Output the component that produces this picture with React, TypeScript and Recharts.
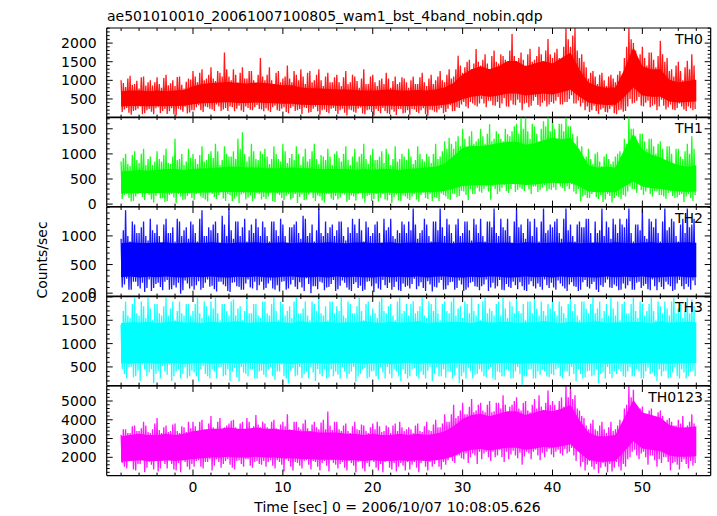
import React from 'react';
import { ComposedChart, Line, Area, XAxis, YAxis } from 'recharts';

// ---- time grid ----
const BIN_START = -8; // sec, first 0.5 s bin of the envelope arrays
const BIN_STEP = 0.5; // sec; A arrays = first quarter-second, B arrays = second quarter-second
const CORE_START = -8; // sec, first point of the dense-core arrays (1 s step)

const TITLE = 'ae501010010_20061007100805_wam1_bst_4band_nobin.qdp';
const X_LABEL = 'Time [sec] 0 = 2006/10/07 10:08:05.626';
const Y_LABEL = 'Counts/sec';

const X_MAJOR = [0, 10, 20, 30, 40, 50];
const X_MINOR = [-8, -6, -4, -2, 2, 4, 6, 8, 12, 14, 16, 18, 22, 24, 26, 28, 32, 34, 36, 38, 42, 44, 46, 48, 52, 54, 56];

// ---- TH0 (red) ----
const TH0_HI = [
  1000,820,1120,900,780,1100,950,860,1080,800,1150,920,850,1100,780,1050,
  1250,950,1300,1050,1350,980,1200,1750,1100,1300,950,1350,1050,1250,900,1600,
  1000,1350,900,1250,1050,1400,950,1150,1300,900,1250,1000,1300,850,1200,950,
  1150,850,1250,950,1100,800,1300,900,1150,850,1050,1200,800,1100,950,1050,
  800,1100,900,1200,850,1150,1000,1250,950,1300,1100,1660,1200,1500,1300,1840,
  1400,1700,1300,1800,1450,1650,1350,2245,1500,1750,1400,1850,1550,1900,1450,2110,
  1600,1850,1500,2400,1900,2400,1600,1500,1050,1250,900,1200,850,1150,950,1250,
  1600,2400,2000,1500,1900,1400,1750,1350,2060,1500,1250,1100,1500,1000,1525,1700,
];
const TH0_LO = [
  150,260,80,200,300,120,230,90,280,180,100,250,60,210,290,140,
  200,330,150,280,220,350,180,260,300,170,320,150,260,200,340,220,
  250,150,320,180,280,120,300,200,100,260,150,290,80,220,120,260,
  100,240,60,200,130,270,90,220,50,180,260,120,210,70,230,130,
  80,220,120,250,60,200,140,260,150,330,180,260,420,250,380,300,
  500,280,450,320,260,520,290,350,480,200,400,320,550,300,450,350,
  380,550,350,420,600,380,300,200,150,320,100,250,140,300,90,220,
  180,500,400,550,300,450,320,200,480,220,350,200,380,220,300,200,
];
const TH0_HI_B = [
  930,1050,880,990,1080,860,1000,950,900,1060,870,1000,1090,880,960,1020,
  1100,1200,1000,1150,1050,1250,1100,1300,1000,1150,1200,1050,1250,1000,1150,1100,
  1150,1000,1200,950,1100,1050,1250,1000,1100,1200,950,1150,1000,1100,950,1080,
  950,1080,900,1150,980,1050,900,1100,950,1000,900,1050,980,900,1080,950,
  1000,900,1080,950,1050,900,1100,1000,1150,1050,1300,1400,1350,1550,1450,1500,
  1550,1450,1650,1500,1700,1550,1800,1650,1600,1550,1700,1500,1650,1700,1800,1700,
  1750,1600,1900,2100,2200,1800,1700,1350,1200,1100,1150,1000,1100,1050,1150,1000,
  1900,2100,1800,1700,1600,1750,1550,1650,1700,1600,1300,1400,1250,1350,1300,1400,
];
const TH0_LO_B = [
  220,130,180,240,90,200,160,250,120,230,170,90,240,160,110,200,
  280,200,300,240,180,300,220,180,280,240,190,300,210,280,230,170,
  190,280,200,240,150,260,180,230,270,130,240,170,200,150,240,180,
  200,130,220,160,240,110,200,150,230,120,180,90,160,230,110,200,
  230,150,200,90,210,160,220,120,240,170,280,350,300,420,330,380,
  380,450,330,420,380,300,460,330,400,380,280,450,340,400,300,420,
  450,350,420,500,380,460,400,300,200,180,220,150,230,120,200,160,
  300,380,450,320,400,280,350,300,320,280,220,260,300,180,250,230,
];
const TH0_CORE_LO = [
  300,310,310,305,310,305,310,315,
  360,385,395,405,410,395,390,405,
  395,385,370,370,345,335,335,330,
  320,320,315,310,310,315,320,310,
  310,315,310,320,345,395,495,560,
  590,560,590,650,650,590,620,650,
  620,680,745,560,405,360,340,345,
  560,805,590,560,560,435,405,420,435,
];
const TH0_CORE_HI = [
  700,725,725,710,725,710,725,740,
  840,900,930,945,955,930,915,945,
  930,900,870,870,810,785,785,770,
  755,755,740,725,725,740,755,725,
  725,740,725,755,810,930,1160,1300,
  1380,1300,1380,1520,1520,1380,1450,1520,
  1450,1600,1740,1300,945,840,800,810,
  1300,1890,1380,1300,1300,1015,945,985,1015,
];

// ---- TH1 (green) ----
const TH1_HI = [
  850,1000,760,1050,820,1100,900,780,1050,850,1100,800,1300,900,780,1100,
  1000,800,1150,880,1050,1200,780,1150,950,1050,1300,1430,850,1200,900,1050,
  1100,800,1150,900,1200,820,1000,1150,780,1100,900,1200,800,950,1100,780,
  1050,850,1150,780,1100,950,1200,800,1100,880,1050,1100,780,1150,900,950,
  1100,800,1150,900,1000,820,1200,950,1250,1320,1100,1350,1500,1150,1450,1250,
  1500,1200,1590,1300,1400,1250,1390,1450,1600,1730,1730,1300,1550,1250,1650,1750,
  1750,1300,1600,1730,1550,1200,1050,850,1100,800,1030,760,1000,800,950,1050,
  1300,1750,1500,1200,1400,1100,1300,1000,1250,850,1150,800,1100,900,1200,1350,
];
const TH1_LO = [
  100,200,50,150,250,80,180,30,220,120,60,200,20,150,90,210,
  80,220,120,50,200,100,250,60,180,110,20,210,130,60,220,90,
  100,230,40,180,80,200,120,20,190,90,240,60,150,30,200,80,
  90,210,40,170,70,230,30,180,100,50,200,70,20,190,60,150,
  80,200,40,230,100,60,120,210,150,80,200,160,250,80,200,320,
  225,350,85,300,250,380,220,400,285,300,420,200,350,280,380,300,
  330,450,320,350,400,200,50,180,120,250,100,40,200,30,170,100,
  150,350,300,400,180,320,150,250,180,100,250,120,180,40,200,60,
];
const TH1_HI_B = [
  920,800,980,880,1000,780,950,850,900,980,820,950,880,1000,850,920,
  900,980,850,1000,920,1050,880,1000,950,900,1100,1000,950,1050,880,1000,
  950,900,1000,850,1050,920,880,1000,950,850,1050,900,980,880,950,1000,
  920,1000,880,950,850,1000,900,980,880,950,820,1000,900,850,1000,880,
  950,880,1000,850,950,1000,900,1050,1100,1200,1250,1150,1300,1350,1200,1300,
  1350,1400,1250,1450,1300,1500,1350,1550,1400,1500,1450,1600,1400,1500,1550,1450,
  1500,1600,1450,1550,1400,1350,1150,950,900,1000,850,950,900,850,1000,900,
  1200,1500,1350,1400,1250,1300,1150,1200,1100,1150,1000,1100,950,1050,1000,1100,
];
const TH1_LO_B = [
  180,120,60,200,140,230,90,160,110,40,180,130,200,80,160,120,
  200,150,90,230,140,180,110,200,60,150,190,90,170,110,200,140,
  150,60,210,120,170,90,200,140,80,190,120,170,70,200,110,160,
  130,190,80,150,200,110,160,60,200,130,90,180,140,70,170,110,
  150,90,180,120,200,140,60,180,100,210,140,260,180,300,200,250,
  300,250,350,200,320,260,300,240,330,260,300,350,240,330,260,280,
  280,350,260,300,250,300,150,120,200,140,180,90,160,120,140,180,
  250,300,220,280,250,200,260,180,150,220,160,130,200,150,120,180,
];
const TH1_CORE_LO = [
  210,215,220,215,220,225,225,220,
  225,230,230,235,240,240,235,235,
  230,230,230,235,230,230,225,225,
  225,225,220,225,220,225,225,220,
  225,230,235,240,260,310,360,375,
  370,380,390,400,400,380,390,410,
  425,415,425,350,250,235,240,235,
  350,450,350,320,300,275,250,240,250,
];
const TH1_CORE_HI = [
  650,665,680,665,680,700,700,680,
  700,715,715,730,745,745,730,730,
  715,715,715,730,715,715,700,700,
  700,700,680,700,680,700,700,680,
  700,715,730,745,805,960,1115,1160,
  1150,1180,1210,1240,1240,1180,1210,1270,
  1320,1290,1320,1085,775,730,745,730,
  1085,1395,1085,990,930,850,775,745,775,
];

// ---- TH2 (blue) ----
const TH2_HI = [
  950,1450,900,1200,1050,1250,920,1100,1200,880,1300,1050,900,1250,1100,950,
  1200,900,1450,1000,1100,1250,880,1200,1480,950,1250,1150,900,1200,1300,1000,
  1150,900,1250,1000,1200,880,1150,1250,950,1300,1050,900,1480,1000,1050,1200,
  1100,1250,920,1050,1200,1300,900,1150,1050,1250,880,1100,1300,950,1050,1200,
  1250,1480,950,1100,1200,900,1250,1480,1000,1200,900,1300,1050,1250,920,1200,
  1300,900,1250,1480,1000,1150,1300,880,1480,1200,950,1250,1300,900,1480,1100,
  1150,1300,950,1480,1200,900,1250,1150,1300,880,1050,1480,1250,950,1200,1300,
  1150,1480,900,1200,1480,950,1250,1300,900,1480,1150,1250,900,1300,1480,1200,
];
const TH2_LO = [
  100,250,60,200,80,20,240,90,180,50,230,70,100,-10,220,80,
  60,210,90,240,130,30,200,120,20,190,110,60,240,80,50,200,
  90,220,60,30,210,80,230,70,100,260,0,120,200,50,110,230,
  70,220,100,40,190,130,60,210,20,80,230,90,60,200,40,110,
  80,250,120,90,210,30,100,230,70,190,60,220,40,100,200,110,
  120,240,100,80,230,50,110,200,70,120,40,210,80,110,240,90,
  100,220,120,40,190,110,60,230,80,200,20,110,240,90,120,60,
  80,210,60,200,130,70,240,50,110,200,120,60,230,70,110,220,
];
const TH2_HI_B = [
  1100,1000,1250,1050,1150,1000,1300,1050,1000,1200,1050,1150,1300,1000,1150,1250,
  1050,1300,1000,1150,1200,1050,1350,1000,1100,1250,1000,1300,1100,1050,1150,1250,
  1000,1250,1100,1300,1000,1150,1200,1050,1350,1000,1200,1100,1050,1250,1150,1000,
  1250,1000,1150,1300,1050,1100,1250,1000,1200,1050,1300,1150,1000,1100,1250,1050,
  1100,1200,1050,1300,1000,1250,1100,1150,1300,1050,1200,1000,1250,1100,1300,1050,
  1000,1250,1150,1050,1300,1100,1000,1250,1150,1050,1300,1000,1150,1250,1050,1200,
  1250,1050,1300,1100,1000,1200,1150,1300,1050,1250,1100,1000,1150,1300,1050,1200,
  1300,1050,1200,1100,1000,1300,1150,1050,1250,1100,1300,1000,1200,1050,1150,1300,
];
const TH2_LO_B = [
  150,60,200,120,180,90,40,160,110,200,60,140,180,50,170,120,
  140,60,180,110,70,200,150,40,180,120,60,170,100,200,140,60,
  170,80,140,200,60,150,110,190,40,160,120,70,180,100,160,40,
  130,180,60,160,90,40,200,120,170,60,140,180,110,50,170,130,
  160,70,190,40,150,110,180,60,140,200,90,150,60,180,120,50,
  150,40,180,120,60,160,90,140,190,50,150,120,170,60,140,180,
  60,170,80,150,120,40,190,110,160,60,140,180,100,150,50,170,
  140,60,180,90,160,50,120,190,70,150,40,170,120,160,60,140,
];
const TH2_CORE_LO = [
  280,290,275,285,280,290,280,275,
  285,280,290,280,275,285,280,290,
  280,275,285,290,280,280,285,275,
  290,280,285,280,275,290,280,285,
  280,290,275,285,290,280,275,285,
  280,290,285,275,280,290,280,285,
  275,290,280,285,280,275,290,280,
  285,280,290,275,280,285,290,280,280,
];
const TH2_CORE_HI = [
  870,890,880,875,885,890,870,880,
  885,875,890,880,870,885,880,890,
  875,880,890,870,885,880,875,890,
  880,870,885,890,875,880,890,870,
  885,880,875,890,880,870,885,880,
  890,875,880,885,870,890,880,875,
  885,880,890,870,880,885,875,890,
  880,870,885,890,875,880,885,890,880,
];

// ---- TH3 (cyan) ----
const TH3_HI = [
  1400,1900,1550,2000,1600,1800,2000,1500,1850,1600,2000,1750,1500,1900,1600,1850,
  1700,2000,1550,1800,1900,2000,1500,1850,1600,1950,1750,1500,2000,1650,1850,1550,
  1900,1600,2000,1500,1850,1700,1550,2000,1650,1900,1500,1850,2000,1600,1500,1900,
  1800,2000,1550,1850,1650,2000,1500,1900,1750,1550,2000,1650,1850,1500,2000,1700,
  1600,1900,1700,2000,1550,1850,2000,1500,1900,1650,2000,1750,1550,1850,2000,1600,
  1500,2000,1750,1600,1900,2000,1550,1800,2000,1650,1500,1900,2000,1600,1700,1850,
  2000,1600,1800,1550,2000,1850,1500,1900,1650,2000,1750,1550,1850,2000,1600,1500,
  1900,1650,2000,1550,1850,1700,2000,1500,1800,1900,1600,2000,1750,1550,2000,1950,
];
const TH3_LO = [
  450,250,500,300,200,450,380,150,420,520,330,200,400,250,500,300,
  380,200,520,300,450,250,500,320,200,480,180,380,300,450,250,420,
  280,500,220,400,300,150,480,320,260,400,500,200,350,450,280,300,
  330,500,250,400,180,350,480,280,420,230,380,500,260,400,200,350,
  300,480,250,330,420,200,500,300,270,400,320,150,380,480,250,350,
  400,280,500,220,380,300,420,260,500,120,300,450,250,330,400,280,
  320,480,250,400,500,200,350,280,420,320,150,380,500,260,350,400,
  280,500,300,400,250,480,380,200,300,420,280,500,250,380,300,420,
];
const TH3_HI_B = [
  1700,1600,1850,1650,1900,1550,1750,1850,1650,1800,1600,1900,1700,1650,1850,1600,
  1850,1650,1900,1600,1750,1650,1850,1700,1900,1600,1800,1700,1650,1850,1600,1900,
  1650,1850,1700,1900,1600,1800,1900,1650,1750,1600,1900,1700,1650,1800,1900,1650,
  1700,1600,1900,1650,1800,1700,1850,1600,1650,1900,1700,1800,1600,1900,1650,1850,
  1850,1650,1800,1600,1900,1700,1650,1850,1700,1900,1600,1800,1900,1650,1700,1850,
  1900,1650,1700,1850,1600,1750,1900,1650,1700,1850,1900,1650,1750,1900,1600,1750,
  1700,1900,1650,1850,1700,1600,1900,1750,1850,1650,1900,1700,1600,1750,1900,1850,
  1650,1850,1700,1900,1600,1850,1700,1900,1650,1750,1900,1650,1850,1700,1650,1800,
];
const TH3_LO_B = [
  350,500,280,420,550,300,450,350,250,400,550,300,450,350,250,420,
  300,450,350,250,400,500,300,450,400,280,500,350,450,250,400,330,
  450,300,400,550,250,420,300,500,350,250,380,450,300,250,450,400,
  250,400,350,500,300,450,250,400,300,500,250,350,450,300,450,250,
  450,300,400,250,500,350,300,450,400,250,480,300,250,400,330,450,
  300,450,250,400,300,450,250,400,350,300,450,250,400,450,300,350,
  450,300,400,300,350,450,250,400,300,450,350,250,350,400,450,300,
  400,300,450,250,400,350,300,450,400,250,380,300,450,250,400,300,
];
const TH3_CORE_LO = [
  580,570,585,590,570,580,585,565,
  580,590,570,580,585,570,590,580,
  570,585,580,565,585,590,580,570,
  585,580,590,570,580,585,565,580,
  590,570,585,580,570,590,580,585,
  570,580,585,590,570,580,585,570,
  590,580,570,585,580,590,570,585,
  580,570,585,590,580,570,585,580,585,
];
const TH3_CORE_HI = [
  1440,1460,1450,1470,1440,1460,1480,1450,
  1460,1440,1470,1450,1460,1480,1440,1460,
  1450,1470,1460,1440,1480,1450,1460,1470,
  1440,1460,1450,1480,1460,1440,1470,1450,
  1460,1480,1440,1460,1450,1470,1460,1440,
  1480,1450,1460,1470,1440,1460,1450,1480,
  1460,1440,1470,1450,1460,1480,1440,1460,
  1450,1470,1460,1440,1480,1450,1460,1470,1460,
];

// ---- TH0123 (magenta) ----
const THS_HI = [
  3200,3500,3300,3700,3400,3900,3350,3500,4100,3300,3700,3400,3800,3300,3600,3900,
  3900,3400,4000,3500,4200,3450,4100,3600,3800,4000,3450,3900,4100,3500,4250,3600,
  3800,3450,4000,3500,3900,4300,3400,3900,3500,4000,3400,3900,3500,4000,4440,3450,
  3900,3400,3800,3300,3900,3450,3700,3300,3800,3900,3350,3700,3300,3800,3900,3400,
  3600,3300,3800,3350,3900,3400,4000,3600,4300,3900,4800,4200,4900,4300,5100,4500,
  4900,4400,5000,4450,4900,5300,4400,4800,5200,4500,5000,4400,5100,5300,4500,5560,
  5000,4500,5200,5800,5800,5300,4500,4100,3500,4000,3400,3900,3300,3900,3500,4000,
  4600,5800,5600,4500,4700,4300,4600,4100,4500,3800,4100,3700,4000,4200,3700,4300,
];
const THS_LO = [
  1700,1400,1800,1300,1650,1200,1750,1350,1250,1800,1400,1650,1300,1200,1750,1350,
  1500,1850,1400,1750,1300,1900,1450,1800,1600,1350,1850,1500,1900,1450,1800,1600,
  1500,1850,1400,1750,1250,1800,1300,1700,1400,1850,1350,1750,1300,1800,1250,1700,
  1400,1750,1300,1700,1200,1800,1250,1500,1750,1300,1200,1800,1350,1250,1700,1300,
  1350,1750,1200,1800,1300,1500,1850,1350,1600,2000,1700,2100,1900,1700,2200,1650,
  1900,2300,1800,2000,2400,1750,1900,2350,1950,1600,2300,1900,2400,1850,2000,2450,
  2000,2400,2100,2200,2500,1800,1500,1300,1800,1350,1150,1700,1200,1250,1750,1300,
  1500,2000,2400,1900,2300,1600,2100,1500,1700,2000,1300,1750,1350,1900,1400,1550,
];
const THS_HI_B = [
  3500,3300,3650,3400,3550,3700,3300,3800,3450,3600,3350,3750,3400,3650,3350,3550,
  3650,3900,3500,3800,3600,3900,3500,3700,3950,3600,3800,3500,3900,3650,3750,3900,
  3600,3900,3550,3750,3650,3500,3900,3600,3800,3550,3750,3600,3850,3500,3700,3900,
  3500,3700,3400,3650,3500,3750,3400,3600,3500,3650,3400,3600,3700,3400,3600,3500,
  3500,3700,3400,3650,3450,3750,3600,3800,3900,4300,4100,4500,4300,4700,4400,4800,
  4500,4800,4400,4900,4600,4800,4700,5000,4600,4900,4500,4800,4600,4700,4900,4800,
  4800,5000,4700,5200,5100,4600,4200,3700,3800,3500,3700,3500,3600,3400,3700,3600,
  4800,5200,4800,4600,4300,4500,4200,4400,4200,4000,3900,3700,3800,3600,3900,3800,
];
const THS_LO_B = [
  1500,1800,1350,1650,1900,1450,1600,1800,1400,1650,1850,1350,1700,1900,1500,1650,
  1800,1500,1750,1900,1550,1750,1650,1900,1450,1800,1650,1900,1550,1750,1650,1800,
  1750,1550,1850,1600,1900,1500,1750,1550,1800,1600,1800,1500,1700,1550,1850,1600,
  1650,1450,1800,1550,1750,1400,1700,1850,1450,1650,1750,1450,1700,1500,1550,1750,
  1600,1450,1700,1500,1750,1650,1500,1750,1850,1800,2100,1950,2200,2000,2100,2300,
  2200,2000,2300,2100,2000,2300,2150,2100,2250,2050,2200,2300,2100,2250,2300,2150,
  2300,2200,2450,2300,2100,2300,1750,1600,1500,1650,1450,1500,1650,1450,1500,1650,
  1900,2300,2100,2200,2000,2100,1850,1900,2000,1750,1700,1600,1750,1650,1800,1700,
];
const THS_CORE_LO = [
  1760,1800,1840,1800,1800,1840,1800,1840,
  1910,1950,1990,1990,2025,1990,1990,2025,
  1990,1990,1950,1950,1910,1910,1875,1875,
  1875,1840,1840,1800,1840,1800,1800,1840,
  1800,1840,1800,1840,1910,2060,2290,2400,
  2440,2360,2440,2510,2510,2400,2475,2550,
  2510,2590,2700,2250,1875,1760,1760,1800,
  2325,2850,2475,2400,2325,2100,2025,2025,2060,
];
const THS_CORE_HI = [
  3125,3190,3260,3190,3190,3260,3190,3260,
  3390,3460,3525,3525,3590,3525,3525,3590,
  3525,3525,3460,3460,3390,3390,3325,3325,
  3325,3260,3260,3190,3260,3190,3190,3260,
  3190,3260,3190,3260,3390,3660,4055,4255,
  4320,4190,4320,4455,4455,4255,4390,4520,
  4455,4590,4790,3990,3325,3125,3125,3190,
  4125,5055,4390,4255,4125,3725,3590,3590,3660,
];

// ---- per-panel axis settings ----
const TH0_MAJOR = [500, 1000, 1500, 2000];
const TH1_MAJOR = [0, 500, 1000, 1500];
const TH2_MAJOR = [0, 500, 1000];
const TH3_MAJOR = [500, 1000, 1500, 2000];
const THS_MAJOR = [2000, 3000, 4000, 5000];

const steps = (from: number, to: number, step: number) => {
  const out: number[] = [];
  for (let v = from; v <= to + 1e-9; v += step) out.push(v);
  return out;
};

// ---- layout ----
const W = 717;
const PLOT_LEFT = 106.7;
const PLOT_RIGHT = 710.7;
const PANEL_TOP = 27.6;
const PANEL_H = 89.6;
const X_DOMAIN: [number, number] = [-9.6, 57.6];
const FONT = '"DejaVu Sans", "Liberation Sans", sans-serif';
const FS = 14;

const buildZigzag = (hiA: number[], loA: number[], hiB: number[], loB: number[]) => {
  const out: { t: number; v: number }[] = [];
  const q = BIN_STEP / 4;
  for (let i = 0; i < hiA.length; i++) {
    const t = BIN_START + i * BIN_STEP;
    out.push({ t, v: hiA[i] });
    out.push({ t: t + q, v: loA[i] });
    out.push({ t: t + 2 * q, v: hiB[i] });
    out.push({ t: t + 3 * q, v: loB[i] });
  }
  return out;
};
const buildCore = (lo: number[], hi: number[]) =>
  lo.map((l, i) => ({ t: CORE_START + i, range: [l, hi[i]] }));

type PanelDef = {
  name: string;
  color: string;
  domain: [number, number];
  major: number[];
  minor: number[];
  hi: number[];
  lo: number[];
  hiB: number[];
  loB: number[];
  coreLo: number[];
  coreHi: number[];
};

const PANELS: PanelDef[] = [
  { name: 'TH0', color: '#ff0000', domain: [0, 2405], major: TH0_MAJOR, minor: steps(100, 2400, 100), hi: TH0_HI, lo: TH0_LO, hiB: TH0_HI_B, loB: TH0_LO_B, coreLo: TH0_CORE_LO, coreHi: TH0_CORE_HI },
  { name: 'TH1', color: '#00ff00', domain: [-50, 1735], major: TH1_MAJOR, minor: steps(100, 1700, 100), hi: TH1_HI, lo: TH1_LO, hiB: TH1_HI_B, loB: TH1_LO_B, coreLo: TH1_CORE_LO, coreHi: TH1_CORE_HI },
  { name: 'TH2', color: '#0000ff', domain: [-60, 1505], major: TH2_MAJOR, minor: steps(100, 1500, 100), hi: TH2_HI, lo: TH2_LO, hiB: TH2_HI_B, loB: TH2_LO_B, coreLo: TH2_CORE_LO, coreHi: TH2_CORE_HI },
  { name: 'TH3', color: '#00ffff', domain: [100, 2020], major: TH3_MAJOR, minor: steps(200, 2000, 100), hi: TH3_HI, lo: TH3_LO, hiB: TH3_HI_B, loB: TH3_LO_B, coreLo: TH3_CORE_LO, coreHi: TH3_CORE_HI },
  { name: 'TH0123', color: '#ff00ff', domain: [1025, 5800], major: THS_MAJOR, minor: steps(1200, 5800, 200), hi: THS_HI, lo: THS_LO, hiB: THS_HI_B, loB: THS_LO_B, coreLo: THS_CORE_LO, coreHi: THS_CORE_HI },
];

const AXIS = '#000';
const MAJ = 6;
const MIN = 3;

function Panel({ def, index, last }: { def: PanelDef; index: number; last: boolean }) {
  const plotTop = PANEL_TOP + index * PANEL_H;
  const yTicks = [...def.major, ...def.minor.filter((v) => !def.major.includes(v))].sort((a, b) => a - b);
  const xTicks = [...X_MAJOR, ...X_MINOR].sort((a, b) => a - b);
  const zig = buildZigzag(def.hi, def.lo, def.hiB, def.loB);
  const core = buildCore(def.coreLo, def.coreHi);
  const extra = last ? 40 : 0;
  const chartH = PANEL_H + 2 + extra;

  const leftTick = (p: any) => {
    const { x, y, payload } = p;
    const maj = def.major.includes(payload.value);
    return (
      <g>
        <line x1={x} x2={x + (maj ? MAJ : MIN)} y1={y} y2={y} stroke={AXIS} strokeWidth={1} />
        {maj && (
          <text x={x - 10} y={y} textAnchor="end" dominantBaseline="central" fontFamily={FONT} fontSize={FS} fill="#000">
            {payload.value}
          </text>
        )}
      </g>
    );
  };
  const rightTick = (p: any) => {
    const { x, y, payload } = p;
    const maj = def.major.includes(payload.value);
    return <line x1={x} x2={x - (maj ? MAJ : MIN)} y1={y} y2={y} stroke={AXIS} strokeWidth={1} />;
  };
  const bottomTick = (p: any) => {
    const { x, y, payload } = p;
    const maj = X_MAJOR.includes(payload.value);
    return (
      <g>
        <line x1={x} x2={x} y1={y} y2={y - (maj ? MAJ : MIN)} stroke={AXIS} strokeWidth={1} />
        {maj && last && (
          <text x={x} y={y + 11.5} textAnchor="middle" dominantBaseline="central" fontFamily={FONT} fontSize={FS} fill="#000">
            {payload.value}
          </text>
        )}
      </g>
    );
  };
  const topTick = (p: any) => {
    const { x, y, payload } = p;
    const maj = X_MAJOR.includes(payload.value);
    return <line x1={x} x2={x} y1={y} y2={y + (maj ? MAJ : MIN)} stroke={AXIS} strokeWidth={1} />;
  };

  return (
    <div style={{ position: 'absolute', left: 0, top: plotTop - 1, width: W, height: chartH }}>
      <ComposedChart
        width={W}
        height={chartH}
        margin={{ top: 0, right: W - PLOT_RIGHT - 1, bottom: extra, left: PLOT_LEFT - 1 }}
      >
        <XAxis xAxisId="b" dataKey="t" type="number" domain={X_DOMAIN} ticks={xTicks} interval={0} height={1}
          tickSize={0} tickMargin={0} tickLine={false} tick={bottomTick} axisLine={{ stroke: AXIS, strokeWidth: 1.2 }} allowDataOverflow />
        <XAxis xAxisId="t" orientation="top" dataKey="t" type="number" domain={X_DOMAIN} ticks={xTicks} interval={0} height={1}
          tickSize={0} tickMargin={0} tickLine={false} tick={topTick} axisLine={{ stroke: AXIS, strokeWidth: 1.2 }} allowDataOverflow />
        <YAxis yAxisId="l" type="number" domain={def.domain} ticks={yTicks} interval={0} width={1}
          tickSize={0} tickMargin={0} tickLine={false} tick={leftTick} axisLine={{ stroke: AXIS, strokeWidth: 1.2 }} allowDataOverflow />
        <YAxis yAxisId="r" orientation="right" type="number" domain={def.domain} ticks={yTicks} interval={0} width={1}
          tickSize={0} tickMargin={0} tickLine={false} tick={rightTick} axisLine={{ stroke: AXIS, strokeWidth: 1.2 }} allowDataOverflow />
        <Area xAxisId="b" yAxisId="l" data={core} dataKey="range" type="linear" stroke="none" fill={def.color}
          fillOpacity={1} dot={false} activeDot={false} isAnimationActive={false} />
        <Line xAxisId="b" yAxisId="l" data={zig} dataKey="v" type="linear" stroke={def.color} strokeOpacity={0.9}
          strokeWidth={1.3} dot={false} activeDot={false} isAnimationActive={false} />
        <Line xAxisId="t" yAxisId="r" data={zig} dataKey="v" stroke="none" dot={false} activeDot={false} isAnimationActive={false} />
      </ComposedChart>
      <div style={{ position: 'absolute', right: W - 703, top: 4, fontFamily: FONT, fontSize: FS, lineHeight: '16px', color: '#000' }}>
        {def.name}
      </div>
    </div>
  );
}

export default function App() {
  return (
    <div style={{ position: 'absolute', left: 0, top: 0, width: W, height: 516, background: '#fff', overflow: 'hidden' }}>
      <style>{'.recharts-surface{overflow:visible}'}</style>
      {PANELS.map((p, i) => (
        <Panel key={p.name} def={p} index={i} last={i === PANELS.length - 1} />
      ))}
      <svg width={W} height={516} style={{ position: 'absolute', left: 0, top: 0, pointerEvents: 'none' }}>
        <text x={107} y={21} fontFamily={FONT} fontSize={FS} fill="#000">{TITLE}</text>
        <text x={0} y={0} transform="translate(42,260) rotate(-90)" textAnchor="middle" dominantBaseline="central"
          fontFamily={FONT} fontSize={FS} fill="#000">{Y_LABEL}</text>
        <text x={397.5} y={507} textAnchor="middle" dominantBaseline="central" fontFamily={FONT} fontSize={FS} fill="#000">{X_LABEL}</text>
      </svg>
    </div>
  );
}
